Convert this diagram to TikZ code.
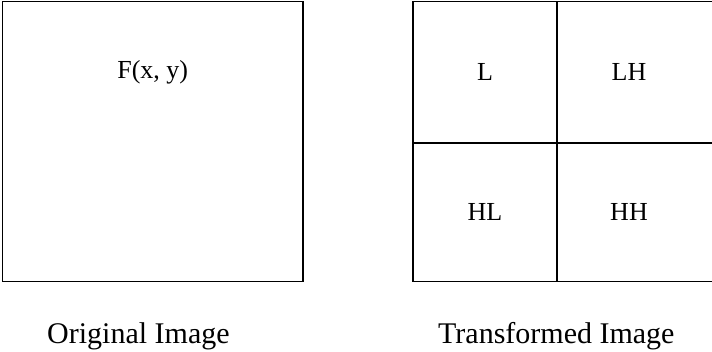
\documentclass[tikz,border=0pt]{standalone}
\usepackage{fontspec}
\setmainfont{Liberation Serif}
\usetikzlibrary{positioning}

\begin{document}
\begin{tikzpicture}[x=1pt,y=-1pt]

		% Define styles
		\tikzstyle{frame} = [draw=black, line width=1.6pt]
		\tikzstyle{band} = [inner sep=0pt, font=\fontsize{26}{30}\selectfont]
		\tikzstyle{caption} = [inner sep=0pt, anchor=base west,
		font=\fontsize{30}{34}\selectfont]

		\useasboundingbox (0,0) rectangle (712,351);
		\clip (0,0) rectangle (712,351);

		% Original image
		\draw [frame] (2.5,1.5) rectangle (303,281.5);
		\node (orig) [band] at (152.75,72) {F(x, y)};

		% Transformed image, split into four bands
		\draw [frame] (413,1.5) rectangle (730,281.5);
		\draw [frame] (557,1.5) -- (557,281.5);
		\draw [frame] (413,143) -- (730,143);
		\node (ll) [band] at (485,72) {L};
		\node (lh) [band] at (629,72) {LH};
		\node (hl) [band] at (485,212) {HL};
		\node (hh) [band] at (629,212) {HH};

		% Captions
		\node (origcap) [caption] at (47,343) {Original Image};
		\node (transcap) [caption] at (438,343) {Transformed Image};
	\end{tikzpicture}
\end{document}
